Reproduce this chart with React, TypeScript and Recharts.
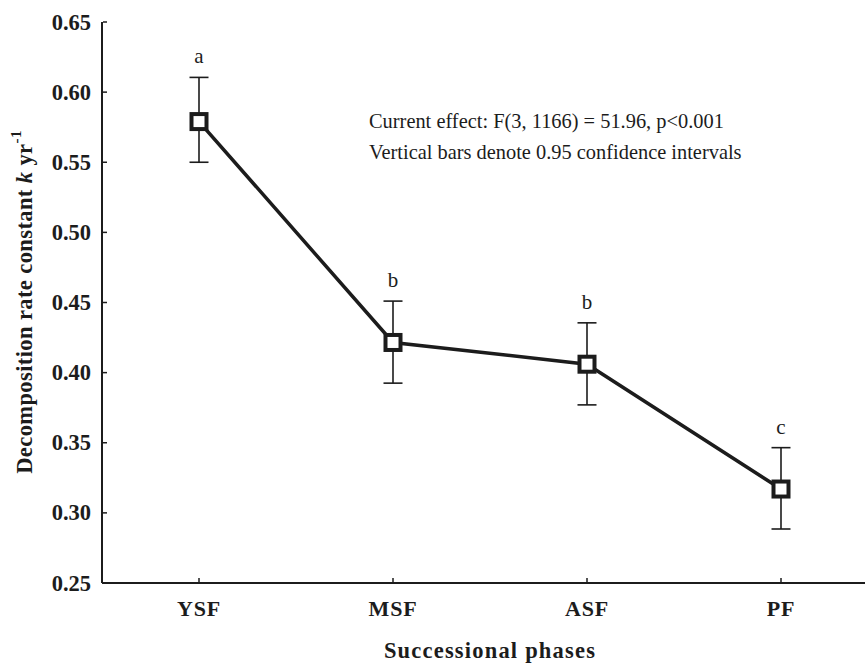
import React from 'react';
import { LineChart, Line, XAxis, YAxis, ErrorBar, LabelList, Customized } from 'recharts';

const phases = ['YSF', 'MSF', 'ASF', 'PF'];
const means = [0.579, 0.4215, 0.406, 0.317];
const ciLower = [0.55, 0.3925, 0.377, 0.2885];
const ciUpper = [0.6105, 0.451, 0.4355, 0.3465];
const letters = ['a', 'b', 'b', 'c'];
const yTicks = [0.25, 0.3, 0.35, 0.4, 0.45, 0.5, 0.55, 0.6, 0.65];
const annotation = [
  'Current effect: F(3, 1166) = 51.96, p<0.001',
  'Vertical bars denote 0.95 confidence intervals',
];

const data = phases.map((p, i) => ({
  x: i,
  name: p,
  mean: means[i],
  err: [means[i] - ciLower[i], ciUpper[i] - means[i]],
  hi: ciUpper[i],
  letter: letters[i],
}));

const FONT = '"Liberation Serif", "Times New Roman", serif';
const INK = '#1c1c1c';

const SquareDot = (props: any) => {
  const { cx, cy } = props;
  if (cx == null || cy == null) return null;
  const s = 15;
  return <rect x={cx - s / 2} y={cy - s / 2} width={s} height={s} fill="#fff" stroke={INK} strokeWidth={4} />;
};

const XTick = (props: any) => {
  const { x, y, payload } = props;
  return (
    <g>
      <line x1={x} y1={y - 1} x2={x} y2={y - 5} stroke={INK} strokeWidth={1.5} />
      <text x={x} y={y + 33} textAnchor="middle" fontFamily={FONT} fontWeight="bold" fontSize={22} letterSpacing={0.8} fill={INK}>
        {phases[payload.value]}
      </text>
    </g>
  );
};

const YTick = (props: any) => {
  const { x, y, payload } = props;
  return (
    <g>
      <line x1={x + 1} x2={x + 5} y1={y} y2={y} stroke={INK} strokeWidth={1.5} />
      <text x={x - 11} y={y + 7.5} textAnchor="end" fontFamily={FONT} fontWeight="bold" fontSize={22.5} fill={INK}>
        {payload.value.toFixed(2)}
      </text>
    </g>
  );
};

const Annotation = () => (
  <g>
    {annotation.map((t, i) => (
      <text key={i} x={369} y={128 + i * 31} fontFamily={FONT} fontSize={20.4} fill={INK}>
        {t}
      </text>
    ))}
    <text x={27} y={302} transform="rotate(-90 27 302)" textAnchor="middle" fontFamily={FONT} fontWeight="bold" fontSize={22.5} letterSpacing={0.4} fill={INK} dominantBaseline="middle">
      Decomposition rate constant <tspan fontStyle="italic">k</tspan> yr<tspan dy={-9} fontSize={15}>-1</tspan>
    </text>
    <text x={490} y={658} textAnchor="middle" fontFamily={FONT} fontWeight="bold" fontSize={22.5} letterSpacing={1.2} fill={INK}>
      Successional phases
    </text>
  </g>
);

export default function App() {
  return (
    <div style={{ position: 'absolute', left: 0, top: 0, width: 865, height: 664, overflow: 'hidden', background: '#fff' }}>
      <LineChart width={880} height={664} data={data} margin={{ top: 22, right: 2, bottom: 0, left: 0 }}>
        <XAxis
          dataKey="x"
          type="number"
          domain={[-0.5, 3.5]}
          ticks={[0, 1, 2, 3]}
          height={81}
          tickLine={false}
          tickSize={0}
          tickMargin={0}
          tick={<XTick />}
          axisLine={{ stroke: INK, strokeWidth: 2 }}
          interval={0}
        />
        <YAxis
          type="number"
          domain={[0.25, 0.65]}
          ticks={yTicks}
          width={102}
          tickLine={false}
          tickSize={0}
          tickMargin={0}
          tick={<YTick />}
          axisLine={{ stroke: INK, strokeWidth: 2 }}
          interval={0}
        />
        <Line dataKey="hi" stroke="none" dot={false} isAnimationActive={false} activeDot={false}>
          <LabelList dataKey="letter" position="top" offset={14} fontFamily={FONT} fontSize={21} fill={INK} />
        </Line>
        <Line
          dataKey="mean"
          stroke={INK}
          strokeWidth={3.5}
          dot={<SquareDot />}
          activeDot={false}
          isAnimationActive={false}
        >
          <ErrorBar dataKey="err" direction="y" width={9.5} stroke={INK} strokeWidth={1.6} />
        </Line>
        <Customized component={Annotation} />
      </LineChart>
    </div>
  );
}
